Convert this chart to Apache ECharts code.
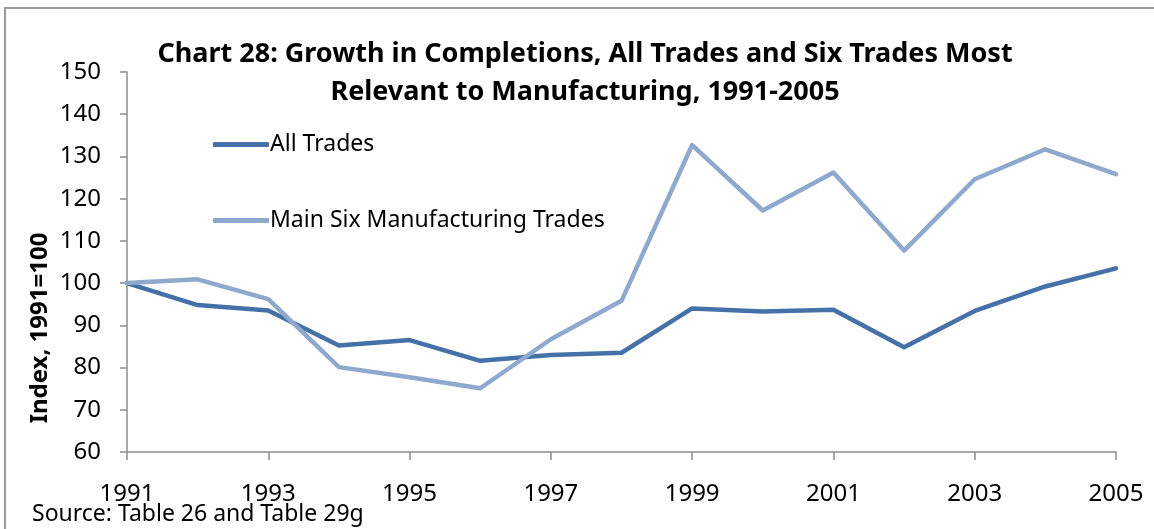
<!DOCTYPE html>
<html>
<head>
<meta charset="utf-8">
<script src="https://cdn.jsdelivr.net/npm/echarts@6/dist/echarts.min.js"></script>
<style>
  html, body { margin: 0; padding: 0; background: #fff; }
  #chart { width: 1154px; height: 529px; }
</style>
</head>
<body>
<div id="chart"></div>
<script>
// Completions index (1991 = 100)
const years = ['1991','1992','1993','1994','1995','1996','1997','1998',
               '1999','2000','2001','2002','2003','2004','2005'];
const allTrades = [100, 94.8, 93.5, 85.2, 86.5, 81.6, 83.0, 83.5,
                   94.0, 93.3, 93.7, 84.8, 93.4, 99.2, 103.5];
const mainSix = [100, 100.9, 96.2, 80.1, 77.7, 75.1, 86.7, 95.8,
                 132.7, 117.2, 126.2, 107.7, 124.6, 131.7, 125.8];
const seriesNames = ['All Trades', 'Main Six Manufacturing Trades'];

const FONT = 'Noto Sans';
const axisGray = '#8c8c8c';

const chart = echarts.init(document.getElementById('chart'));
chart.setOption({
  animation: false,
  backgroundColor: '#ffffff',
  textStyle: { fontFamily: FONT, color: '#000' },
  title: {
    text: 'Chart 28: Growth in Completions, All Trades and Six Trades Most\nRelevant to Manufacturing, 1991-2005',
    left: 580,
    top: 30,
    textAlign: 'center',
    textStyle: { fontFamily: FONT, fontSize: 27, fontWeight: 'bold', color: '#000', lineHeight: 38, align: 'center' }
  },
  legend: {
    orient: 'vertical',
    left: 208,
    top: 128,
    itemGap: 53,
    itemWidth: 56,
    itemHeight: 5,
    icon: 'roundRect',
    textStyle: { fontFamily: FONT, fontSize: 23, color: '#000', padding: [0, 0, 0, -4] },
    data: seriesNames
  },
  grid: { left: 127, right: 38, top: 72, bottom: 77, containLabel: false },
  xAxis: {
    type: 'category',
    data: years,
    boundaryGap: false,
    axisLine: { lineStyle: { color: axisGray, width: 1.5 } },
    axisTick: { show: true, interval: 1, length: 8, alignWithLabel: true, lineStyle: { color: axisGray, width: 1.5 } },
    axisLabel: { interval: 1, margin: 30, fontSize: 24, color: '#000', fontFamily: FONT },
    splitLine: { show: false }
  },
  yAxis: {
    type: 'value',
    min: 60,
    max: 150,
    interval: 10,
    axisLine: { show: true, lineStyle: { color: axisGray, width: 1.5 } },
    axisTick: { show: true, length: 7, lineStyle: { color: axisGray, width: 1.5 } },
    axisLabel: { margin: 26, fontSize: 24, color: '#000', fontFamily: FONT },
    splitLine: { show: false }
  },
  series: [
    {
      name: seriesNames[0],
      type: 'line',
      data: allTrades,
      symbol: 'none',
      lineStyle: { color: '#4571a8', width: 4.5, cap: 'round', join: 'round' },
      itemStyle: { color: '#4571a8' }
    },
    {
      name: seriesNames[1],
      type: 'line',
      data: mainSix,
      symbol: 'none',
      lineStyle: { color: '#8ea8ce', width: 4.5, cap: 'round', join: 'round' },
      itemStyle: { color: '#8ea8ce' }
    }
  ],
  graphic: [
    {
      type: 'rect',
      shape: { x: 5, y: 8, width: 1160, height: 540 },
      style: { fill: 'none', stroke: '#9a9a9a', lineWidth: 2 },
      silent: true
    },
    {
      type: 'text',
      x: 40,
      y: 328,
      rotation: Math.PI / 2,
      style: {
        text: 'Index, 1991=100',
        font: 'bold 24px "Noto Sans"',
        fill: '#000',
        align: 'center',
        verticalAlign: 'middle'
      }
    },
    {
      type: 'text',
      left: 32,
      top: 503,
      style: {
        text: 'Source: Table 26 and Table 29g',
        font: '23px "Noto Sans"',
        fill: '#000'
      }
    }
  ]
});
</script>
</body>
</html>
